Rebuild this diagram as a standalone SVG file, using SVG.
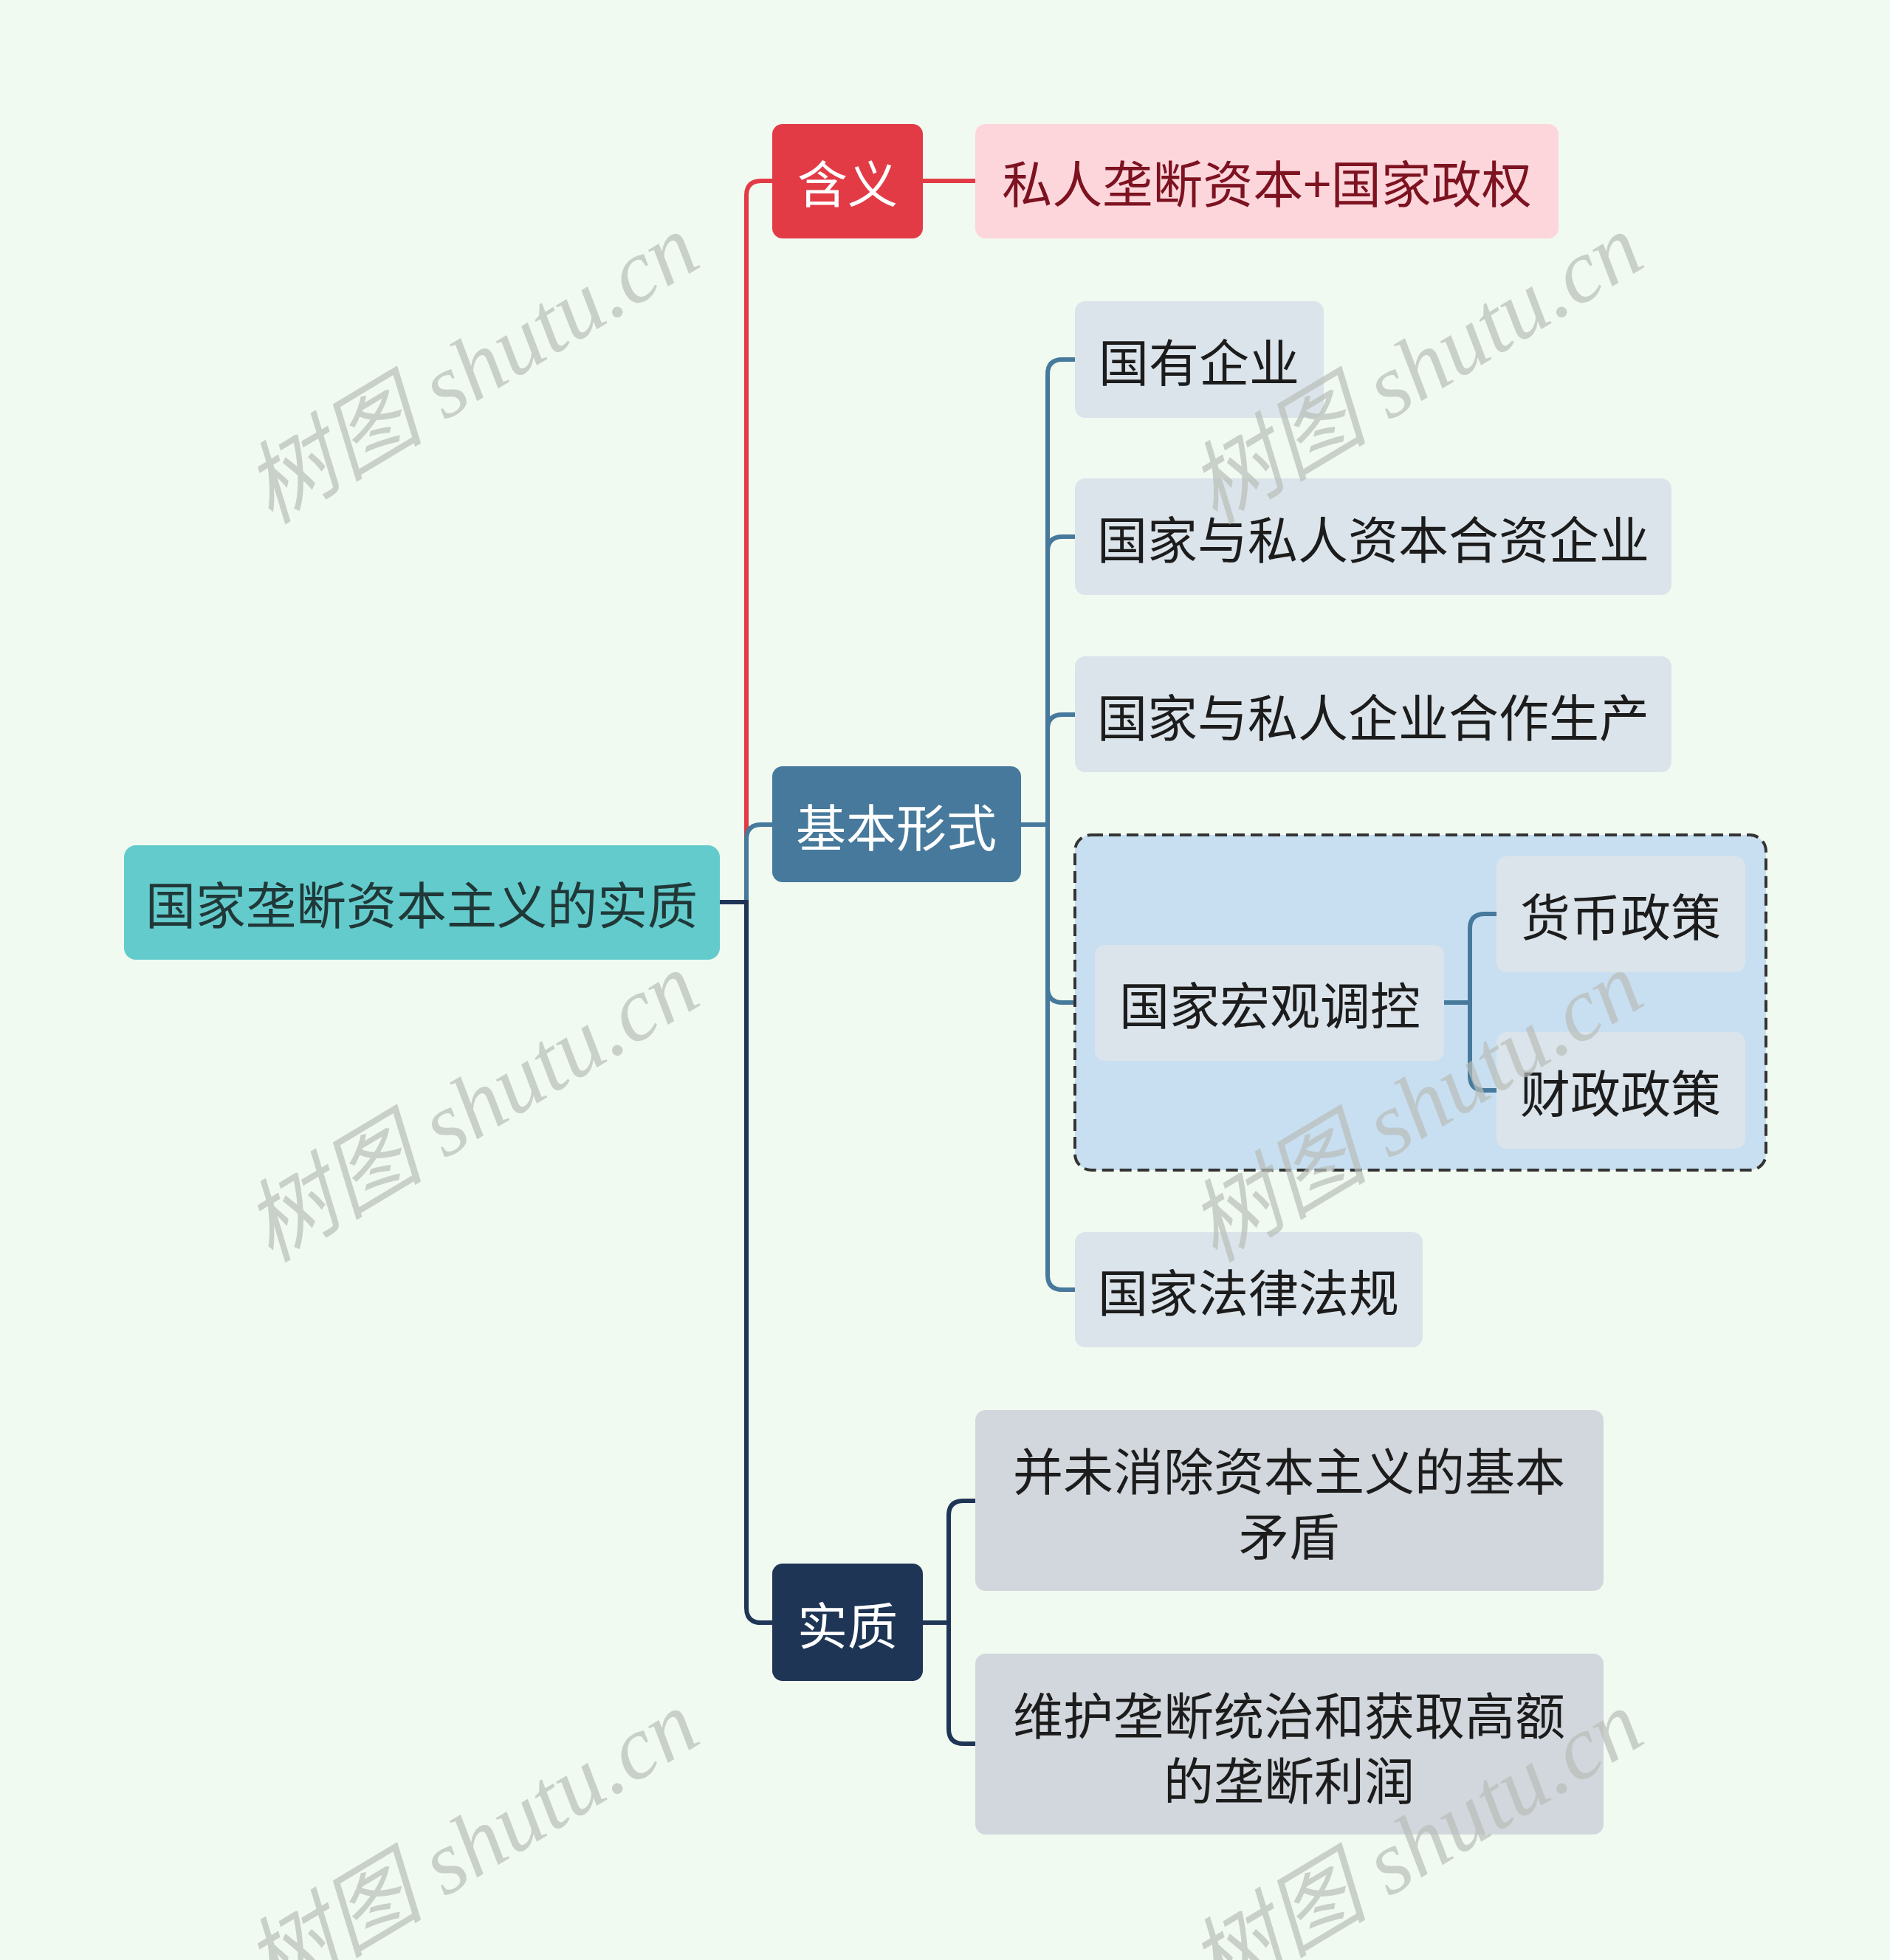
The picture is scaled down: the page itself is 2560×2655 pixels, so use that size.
<svg xmlns="http://www.w3.org/2000/svg" width="2560" height="2655" viewBox="0 0 2560 2655">
<style>
.t{font-family:"Noto Sans CJK SC","Noto Sans",sans-serif;font-size:68px;text-anchor:middle;dominant-baseline:central}
.dark{fill:#1c1c1c}
.white{fill:#ffffff}
.c{fill:none;stroke-width:6;stroke-linecap:butt}
.wm{font-family:"Liberation Serif","Noto Sans CJK SC",serif;font-style:italic;font-size:122px;fill:#b9beb9;opacity:0.7}
</style>
<rect x="0" y="0" width="2560" height="2655" fill="#f1faf0"/>
<g id="connectors">
<path class="c" stroke="#e23b46" d="M1011 1222 V265 Q1011 245 1031 245 H1046"/>
<path class="c" stroke="#e23b46" d="M1250 245 H1321"/>
<path class="c" stroke="#46799b" d="M1011 1222 V1137 Q1011 1117 1031 1117 H1046"/>
<path class="c" stroke="#1e3556" d="M975 1222 H1011 V2178 Q1011 2198 1031 2198 H1046"/>
<path class="c" stroke="#46799b" d="M1383 1117 H1419"/>
<path class="c" stroke="#46799b" d="M1419 1117 V507 Q1419 487 1439 487 H1456"/>
<path class="c" stroke="#46799b" d="M1419 1117 V747 Q1419 727 1439 727 H1456"/>
<path class="c" stroke="#46799b" d="M1419 1117 V988 Q1419 968 1439 968 H1456"/>
<path class="c" stroke="#46799b" d="M1419 1117 V1338 Q1419 1358 1439 1358 H1483"/>
<path class="c" stroke="#46799b" d="M1419 1117 V1727 Q1419 1747 1439 1747 H1456"/>
<path class="c" stroke="#1e3556" d="M1250 2198 H1285"/>
<path class="c" stroke="#1e3556" d="M1285 2198 V2053 Q1285 2033 1305 2033 H1321"/>
<path class="c" stroke="#1e3556" d="M1285 2198 V2342 Q1285 2362 1305 2362 H1321"/>
</g>
<g id="root">
<rect x="168" y="1145" width="807" height="155" rx="16" fill="#63cbcc"/>
<text class="t" x="571" y="1222" fill="#213838">国家垄断资本主义的实质</text>
</g>
<g id="n-hanyi">
<rect x="1046" y="168" width="204" height="155" rx="14" fill="#e23b46"/>
<text class="t white" x="1148" y="245">含义</text>
</g>
<g id="n-hanyi-1">
<rect x="1321" y="168" width="790" height="155" rx="14" fill="#fcd6db"/>
<text class="t" x="1716" y="245" fill="#7d1220">私人垄断资本+国家政权</text>
</g>
<g id="n-jiben">
<rect x="1046" y="1038" width="337" height="157" rx="14" fill="#46799b"/>
<text class="t white" x="1214" y="1117">基本形式</text>
</g>
<g id="n-shizhi">
<rect x="1046" y="2118" width="204" height="159" rx="14" fill="#1e3556"/>
<text class="t white" x="1148" y="2198">实质</text>
</g>
<g id="n-guoyou">
<rect x="1456" y="408" width="337" height="158" rx="14" fill="#dbe4ea"/>
<text class="t dark" x="1624" y="487">国有企业</text>
</g>
<g id="n-hezi">
<rect x="1456" y="648" width="808" height="158" rx="14" fill="#dbe4ea"/>
<text class="t dark" x="1860" y="727">国家与私人资本合资企业</text>
</g>
<g id="n-hezuo">
<rect x="1456" y="889" width="808" height="157" rx="14" fill="#dbe4ea"/>
<text class="t dark" x="1860" y="968">国家与私人企业合作生产</text>
</g>
<g id="group-box">
<rect x="1456" y="1131" width="936" height="454" rx="22" fill="#c8dff2" stroke="#333333" stroke-width="4" stroke-dasharray="16 8"/>
</g>
<g id="conn-macro">
<path class="c" stroke="#46799b" d="M1956 1358 H1991"/>
<path class="c" stroke="#46799b" d="M1991 1358 V1258 Q1991 1238 2011 1238 H2027"/>
<path class="c" stroke="#46799b" d="M1991 1358 V1457 Q1991 1477 2011 1477 H2027"/>
</g>
<g id="n-hongguan">
<rect x="1483" y="1280" width="473" height="157" rx="14" fill="#dbe4ea"/>
<text class="t dark" x="1720" y="1358">国家宏观调控</text>
</g>
<g id="n-huobi">
<rect x="2027" y="1160" width="337" height="157" rx="14" fill="#dbe4ea"/>
<text class="t dark" x="2195" y="1238">货币政策</text>
</g>
<g id="n-caizheng">
<rect x="2027" y="1398" width="337" height="158" rx="14" fill="#dbe4ea"/>
<text class="t dark" x="2195" y="1477">财政政策</text>
</g>
<g id="n-falv">
<rect x="1456" y="1669" width="471" height="156" rx="14" fill="#dbe4ea"/>
<text class="t dark" x="1691" y="1747">国家法律法规</text>
</g>
<g id="n-maodun">
<rect x="1321" y="1910" width="851" height="245" rx="14" fill="#d2d7dd"/>
<text class="t dark" x="1746" y="1989">并未消除资本主义的基本</text>
<text class="t dark" x="1746" y="2077">矛盾</text>
</g>
<g id="n-lirun">
<rect x="1321" y="2240" width="851" height="245" rx="14" fill="#d2d7dd"/>
<text class="t dark" x="1746" y="2320">维护垄断统治和获取高额</text>
<text class="t dark" x="1746" y="2408">的垄断利润</text>
</g>
<g id="watermarks">
<text class="wm" text-anchor="middle" transform="translate(660 535) rotate(-31)">树图 shutu.cn</text>
<text class="wm" text-anchor="middle" transform="translate(1939 535) rotate(-31)">树图 shutu.cn</text>
<text class="wm" text-anchor="middle" transform="translate(660 1535) rotate(-31)">树图 shutu.cn</text>
<text class="wm" text-anchor="middle" transform="translate(1939 1535) rotate(-31)">树图 shutu.cn</text>
<text class="wm" text-anchor="middle" transform="translate(660 2535) rotate(-31)">树图 shutu.cn</text>
<text class="wm" text-anchor="middle" transform="translate(1939 2535) rotate(-31)">树图 shutu.cn</text>
</g>
</svg>
